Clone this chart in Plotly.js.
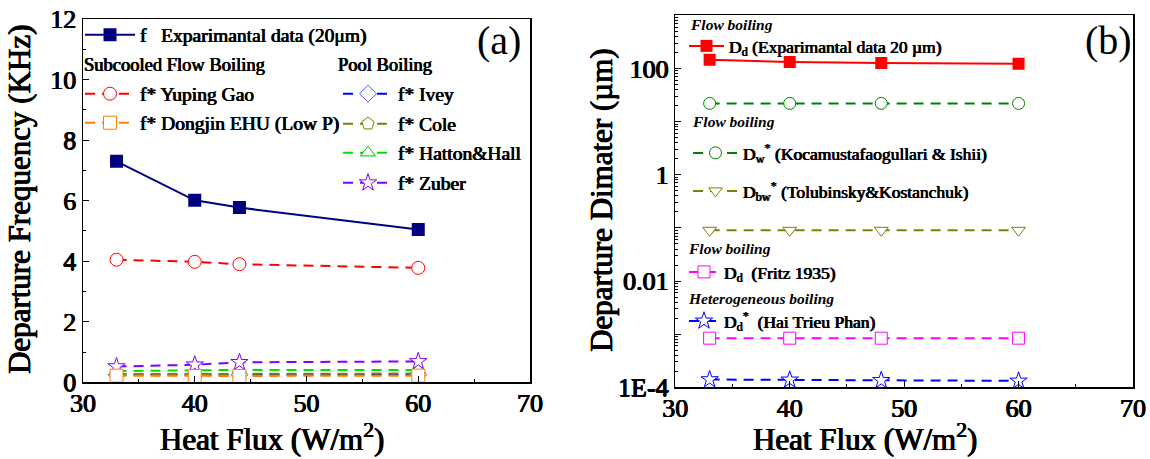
<!DOCTYPE html>
<html>
<head>
<meta charset="utf-8">
<script src="https://cdn.plot.ly/plotly-3.0.1.min.js"></script>
<style>html,body{margin:0;padding:0;background:#fff;}#chart{width:1150px;height:459px;}</style>
</head>
<body>
<div id="chart"></div>
<script>
// ---------- data: panel (a) ----------
const heatFluxA = [33, 40, 44, 60];
const fExperimental = [7.30, 6.01, 5.77, 5.05];
const fYupingGao = [4.05, 3.98, 3.90, 3.78];
const fDongjinEHU = [0.22, 0.21, 0.21, 0.22];
const fIvey = [0.25, 0.25, 0.25, 0.25];
const fCole = [0.27, 0.28, 0.29, 0.29];
const fHattonHall = [0.37, 0.39, 0.41, 0.41];
const fZuber = [0.52, 0.58, 0.66, 0.69];

// ---------- data: panel (b) ----------
const heatFluxB = [33, 40, 48, 60];
const dExperimental = [146, 132, 126, 123];
const dKocamustafa = [22, 22, 22, 22];
const dTolubinsky = [0.09, 0.09, 0.09, 0.09];
const dFritz = [0.00084, 0.00084, 0.00084, 0.00084];
const dHaiTrieuPhan = [0.00014, 0.000138, 0.000135, 0.000132];

// tick labels
const xTickVals = [30, 40, 50, 60, 70];
const yTickValsA = [0, 2, 4, 6, 8, 10, 12];
const yTickValsB = [1e-4, 1e-3, 1e-2, 1e-1, 1, 10, 100, 1000];
const yTickTextB = ['1E-4', '', '0.01', '', '1', '', '100', ''];

// ---------- helpers (layout only) ----------
const W = 1150, H = 459;
const px = v => v / W;
const py = v => 1 - v / H;
const SERIF = 'Liberation Serif';
const DASH = '10px,7px';
// faux-bold via text shadow (bold serif face unavailable)
const FB = '0.55px 0 0 #000, -0.55px 0 0 #000, 0 0.3px 0 #000';
const FBs = '0.45px 0 0 #000, -0.45px 0 0 #000';
function f(size, extra) { return Object.assign({family: SERIF, size: size, color: '#000', shadow: size > 22 ? FB : FBs}, extra || {}); }

function lg(left, cy, size, iw) {
  return {
    x: px(left), y: py(cy), xanchor: 'left', yanchor: 'middle',
    bgcolor: 'rgba(0,0,0,0)', borderwidth: 0, itemwidth: iw || 50,
    font: f(size),
    itemclick: false, itemdoubleclick: false
  };
}

const NB = '\u00A0';
const traces = [
  {x: heatFluxA, y: fExperimental, xaxis: 'x', yaxis: 'y', mode: 'lines+markers', legend: 'legend',
   name: 'f' + NB + NB + NB + 'Exparimantal data (20μm)',
   line: {color: '#000080', width: 2}, marker: {symbol: 'square', size: 13, color: '#000080'}},
  {x: heatFluxA, y: fYupingGao, xaxis: 'x', yaxis: 'y', mode: 'lines+markers', legend: 'legend2',
   name: 'f* Yuping Gao',
   line: {color: '#FF0000', width: 2, dash: DASH}, marker: {symbol: 'circle', size: 13, color: '#fff', line: {color: '#FF0000', width: 1}}},
  {x: heatFluxA, y: fIvey, xaxis: 'x', yaxis: 'y', mode: 'lines+markers', legend: 'legend4',
   name: 'f* Ivey',
   line: {color: '#0000FF', width: 2, dash: DASH}, marker: {symbol: 'diamond', size: 13, color: '#fff', line: {color: '#4A5BFF', width: 1}}},
  {x: heatFluxA, y: fCole, xaxis: 'x', yaxis: 'y', mode: 'lines+markers', legend: 'legend5',
   name: 'f* Cole',
   line: {color: '#808000', width: 2, dash: DASH}, marker: {symbol: 'pentagon', size: 13, color: '#fff', line: {color: '#808000', width: 1}}},
  {x: heatFluxA, y: fHattonHall, xaxis: 'x', yaxis: 'y', mode: 'lines+markers', legend: 'legend6',
   name: 'f* Hatton&Hall',
   line: {color: '#00E000', width: 2, dash: DASH}, marker: {symbol: 'triangle-up', size: 13, color: '#fff', line: {color: '#00C000', width: 1}}},
  {x: heatFluxA, y: fZuber, xaxis: 'x', yaxis: 'y', mode: 'lines+markers', legend: 'legend7',
   name: 'f* Zuber',
   line: {color: '#8000FF', width: 2, dash: DASH}, marker: {symbol: 'star', size: 13, color: '#fff', line: {color: '#8000FF', width: 1}}},
  {x: heatFluxA, y: fDongjinEHU, xaxis: 'x', yaxis: 'y', mode: 'lines+markers', legend: 'legend3',
   name: 'f* Dongjin EHU (Low P)', cliponaxis: false,
   line: {color: '#FF8000', width: 2, dash: DASH}, marker: {symbol: 'square', size: 13, color: '#fff', line: {color: '#FF8000', width: 1}}},
  {x: heatFluxB, y: dExperimental, xaxis: 'x2', yaxis: 'y2', mode: 'lines+markers', legend: 'legend8',
   name: 'D<sub>d</sub> (Exparimantal data 20 µm)',
   line: {color: '#FF0000', width: 2}, marker: {symbol: 'square', size: 12, color: '#FF0000'}},
  {x: heatFluxB, y: dKocamustafa, xaxis: 'x2', yaxis: 'y2', mode: 'lines+markers', legend: 'legend9',
   name: 'D<sub>w</sub><sup>*</sup> (Kocamustafaogullari & Ishii)',
   line: {color: '#008000', width: 2, dash: DASH}, marker: {symbol: 'circle', size: 12, color: '#fff', line: {color: '#008000', width: 1}}},
  {x: heatFluxB, y: dTolubinsky, xaxis: 'x2', yaxis: 'y2', mode: 'lines+markers', legend: 'legend10',
   name: 'D<sub>bw</sub><sup>*</sup> (Tolubinsky&Kostanchuk)',
   line: {color: '#808000', width: 2, dash: DASH}, marker: {symbol: 'triangle-down', size: 12, color: '#fff', line: {color: '#808000', width: 1}}},
  {x: heatFluxB, y: dFritz, xaxis: 'x2', yaxis: 'y2', mode: 'lines+markers', legend: 'legend11',
   name: 'D<sub>d</sub>' + NB + NB + '(Fritz 1935)',
   line: {color: '#FF00FF', width: 2, dash: DASH}, marker: {symbol: 'square', size: 12, color: '#fff', line: {color: '#FF00FF', width: 1}}},
  {x: heatFluxB, y: dHaiTrieuPhan, xaxis: 'x2', yaxis: 'y2', mode: 'lines+markers', legend: 'legend12',
   name: 'D<sub>d</sub><sup>*</sup>' + NB + NB + '(Hai Trieu Phan)', cliponaxis: false,
   line: {color: '#0000FF', width: 2, dash: DASH}, marker: {symbol: 'star', size: 13, color: '#fff', line: {color: '#0000FF', width: 1}}}
];

const axBase = {
  showgrid: false, zeroline: false, showline: true, linecolor: '#000', linewidth: 1.5, mirror: true,
  ticks: 'inside', ticklen: 6, tickwidth: 1, tickcolor: '#000', tickfont: f(26)
};

const headerFont = f(18.5);
const italicFont = {family: SERIF, size: 15.5, color: '#000', weight: 700, style: 'italic'};
function note(text, left, cy, font) {
  return {text: text, xref: 'paper', yref: 'paper', x: px(left), y: py(cy), xanchor: 'left', yanchor: 'middle', showarrow: false, font: font};
}
const titleFont = f(31);

const layout = {
  width: W, height: H,
  margin: {l: 0, r: 0, t: 0, b: 0},
  paper_bgcolor: '#fff', plot_bgcolor: '#fff',
  font: {family: SERIF},
  showlegend: true,
  xaxis: Object.assign({}, axBase, {domain: [px(83), px(530)], range: [30, 70], tickvals: xTickVals, ticklabelstandoff: -3,
    minor: {ticks: 'inside', ticklen: 3, dtick: 5, tickcolor: '#000'}, anchor: 'y'}),
  yaxis: Object.assign({}, axBase, {domain: [py(382.3), py(19)], range: [0, 12], tickvals: yTickValsA,
    minor: {ticks: 'inside', ticklen: 3, dtick: 1, tickcolor: '#000'}, anchor: 'x'}),
  xaxis2: Object.assign({}, axBase, {domain: [px(675.3), px(1133)], range: [30, 70], tickvals: xTickVals, ticklabelstandoff: -3,
    minor: {ticks: 'inside', ticklen: 3, dtick: 5, tickcolor: '#000'}, anchor: 'y2'}),
  yaxis2: Object.assign({}, axBase, {domain: [py(387.3), py(15.3)], type: 'log', range: [-4, 3],
    tickmode: 'array', tickvals: yTickValsB, ticktext: yTickTextB, anchor: 'x2',
    minor: {ticks: 'inside', ticklen: 3, tickcolor: '#000', tickmode: 'array',
      tickvals: [2e-4,3e-4,4e-4,5e-4,6e-4,7e-4,8e-4,9e-4,2e-3,3e-3,4e-3,5e-3,6e-3,7e-3,8e-3,9e-3,
        2e-2,3e-2,4e-2,5e-2,6e-2,7e-2,8e-2,9e-2,0.2,0.3,0.4,0.5,0.6,0.7,0.8,0.9,2,3,4,5,6,7,8,9,
        20,30,40,50,60,70,80,90,200,300,400,500,600,700,800,900]}}),
  legend: lg(80, 35, 19.5, 50),
  legend2: lg(80, 94, 19.5, 50),
  legend3: lg(80, 123, 19.5, 50),
  legend4: lg(338, 94, 19.5, 50),
  legend5: lg(338, 124, 19.5, 50),
  legend6: lg(338, 153, 19.5, 50),
  legend7: lg(338, 183, 19.5, 50),
  legend8: lg(684, 46, 17.5, 35),
  legend9: lg(688, 153, 17.5, 45),
  legend10: lg(688, 191, 17.5, 45),
  legend11: lg(684, 272, 17.5, 30),
  legend12: lg(684, 321, 17.5, 30),
  annotations: [
    note('Subcooled Flow Boiling', 82, 65, headerFont),
    note('Pool Boiling', 336, 65, headerFont),
    note('Flow boiling', 688, 24, italicFont),
    note('Flow boiling', 690, 121, italicFont),
    note('Flow boiling', 686, 248, italicFont),
    note('Heterogeneous boiling', 686, 298, italicFont),
    {text: '(a)', xref: 'paper', yref: 'paper', x: px(499), y: py(40), xanchor: 'center', yanchor: 'middle', showarrow: false,
     font: {family: SERIF, size: 40, color: '#000'}},
    {text: '(b)', xref: 'paper', yref: 'paper', x: px(1108), y: py(40), xanchor: 'center', yanchor: 'middle', showarrow: false,
     font: {family: SERIF, size: 40, color: '#000'}},
    {text: 'Heat Flux (W/m<sup>2</sup>)', xref: 'paper', yref: 'paper', x: px(272), y: py(437), xanchor: 'center', yanchor: 'middle', showarrow: false, font: titleFont},
    {text: 'Heat Flux (W/m<sup>2</sup>)', xref: 'paper', yref: 'paper', x: px(865), y: py(437), xanchor: 'center', yanchor: 'middle', showarrow: false, font: titleFont},
    {text: 'Departure Frequency (KHz)', xref: 'paper', yref: 'paper', x: px(19), y: py(200), xanchor: 'center', yanchor: 'middle', textangle: -90, showarrow: false, font: titleFont},
    {text: 'Departure Dimater (µm)', xref: 'paper', yref: 'paper', x: px(601), y: py(200), xanchor: 'center', yanchor: 'middle', textangle: -90, showarrow: false, font: titleFont}
  ]
};

Plotly.newPlot('chart', traces, layout, {displayModeBar: false, staticPlot: true});
</script>
</body>
</html>
